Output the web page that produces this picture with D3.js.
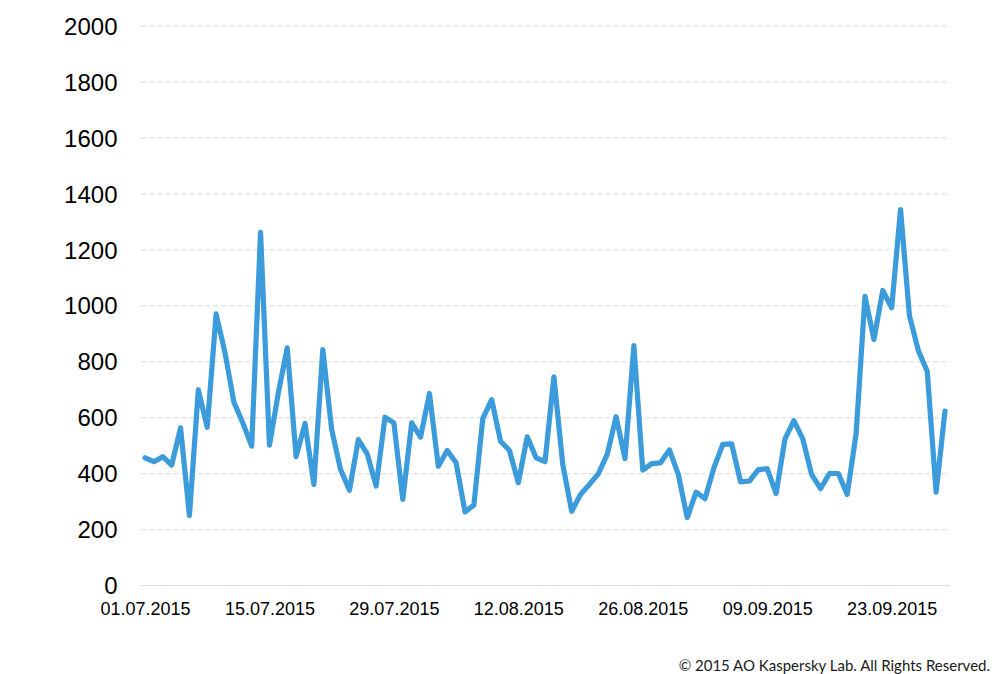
<!DOCTYPE html>
<html>
<head>
<meta charset="utf-8">
<script src="https://cdn.jsdelivr.net/npm/d3@7/dist/d3.min.js"></script>
<style>
  body { margin: 0; background: #fff; }
  .ylab { font-family: "Liberation Sans", Arial, sans-serif; font-size: 24px; fill: #000; }
  .xlab { font-family: "Liberation Sans", Arial, sans-serif; font-size: 18px; fill: #000; }
  .copy { font-family: Lato, "Open Sans", sans-serif; font-size: 15px; fill: #1a1a1a; }
</style>
</head>
<body>
<svg width="992" height="674"></svg>
<script>
// daily values, 01.07.2015 - 30.09.2015
var startDate = "01.07.2015";
var values = [
  457, 443, 461, 431, 564, 251, 700, 566, 971, 833,
  656, 582, 499, 1263, 502, 689, 850, 461, 580, 362,
  844, 558, 415, 341, 522, 471, 356, 602, 582, 308,
  582, 531, 687, 427, 483, 439, 264, 288, 597, 665,
  516, 483, 368, 532, 457, 443, 746, 433, 266, 326,
  362, 400, 469, 604, 454, 858, 413, 436, 439, 485,
  397, 243, 334, 311, 421, 505, 507, 371, 374, 415,
  418, 329, 525, 590, 525, 397, 347, 401, 401, 326,
  543, 1034, 880, 1055, 993, 1344, 965, 840, 766, 334,
  624
];
var yTicks = [0, 200, 400, 600, 800, 1000, 1200, 1400, 1600, 1800, 2000];
var xTickLabels = ["01.07.2015", "15.07.2015", "29.07.2015", "12.08.2015", "26.08.2015", "09.09.2015", "23.09.2015"];

var parse = d3.timeParse("%d.%m.%Y");
var fmt = d3.timeFormat("%d.%m.%Y");
var t0 = parse(startDate);
var data = values.map(function(v, i) {
  return {date: d3.timeDay.offset(t0, i), value: v};
});

var svg = d3.select("svg");

var x = d3.scaleTime()
    .domain([data[0].date, data[data.length - 1].date])
    .range([145, 945]);

var y = d3.scaleLinear()
    .domain([0, 2000])
    .range([585.7, 26]);

//gridlines
svg.append("g")
  .selectAll("line")
  .data(yTicks)
  .enter()
  .append("line")
  .attr("x1", 141)
  .attr("x2", 950)
  .attr("y1", function(d){ return y(d); })
  .attr("y2", function(d){ return y(d); })
  .attr("stroke", "#d9d9d9")
  .attr("stroke-width", 1)
  .attr("stroke-dasharray", function(d){ return d == 0 ? null : "5,3"; });

//y labels
svg.append("g")
  .selectAll("text")
  .data(yTicks)
  .enter()
  .append("text")
  .attr("class", "ylab")
  .attr("x", 117.5)
  .attr("y", function(d){ return y(d); })
  .attr("dy", "0.36em")
  .attr("text-anchor", "end")
  .text(function(d){ return d; });

//x labels
var xAxis = d3.axisBottom(x)
    .tickValues(xTickLabels.map(parse))
    .tickFormat(fmt)
    .tickSize(0)
    .tickPadding(0);

var gx = svg.append("g")
  .attr("transform", "translate(0," + y(0) + ")")
  .call(xAxis);
gx.select(".domain").remove();
gx.selectAll("text")
  .attr("class", "xlab")
  .attr("font-family", null)
  .attr("font-size", null)
  .attr("fill", null)
  .attr("dy", null)
  .attr("y", 29.5);

//line
var line = d3.line()
    .x(function(d){ return x(d.date); })
    .y(function(d){ return y(d.value); });

svg.append("path")
  .datum(data)
  .attr("d", line)
  .attr("fill", "none")
  .attr("stroke", "#3b9bdb")
  .attr("stroke-width", 5.2)
  .attr("stroke-linejoin", "round")
  .attr("stroke-linecap", "round");

svg.append("text")
  .attr("class", "copy")
  .attr("x", 990)
  .attr("y", 671)
  .attr("text-anchor", "end")
  .text("© 2015 AO Kaspersky Lab. All Rights Reserved.");
</script>
</body>
</html>
